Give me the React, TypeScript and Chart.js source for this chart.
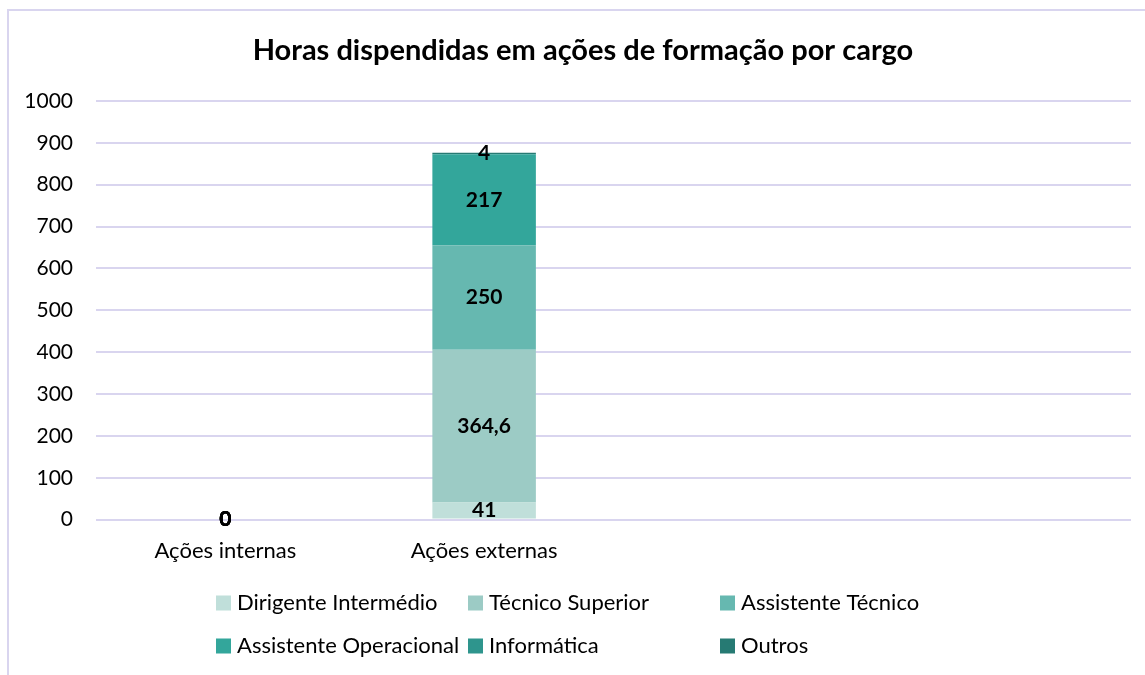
import React, { useEffect, useRef } from "react";
import { Chart, registerables } from "chart.js";

Chart.register(...registerables);

const chartTitle = "Horas dispendidas em ações de formação por cargo";
const categories = ["Ações internas", "Ações externas", "", ""];
const seriesNames = [
  "Dirigente Intermédio",
  "Técnico Superior",
  "Assistente Técnico",
  "Assistente Operacional",
  "Informática",
  "Outros",
];
const dirigenteIntermedio = [0, 41, null, null];
const tecnicoSuperior = [0, 364.6, null, null];
const assistenteTecnico = [0, 250, null, null];
const assistenteOperacional = [0, 217, null, null];
const informatica = [0, null, null, null];
const outros = [0, 4, null, null];
const seriesColors = ["#c0dfda", "#9ccbc5", "#66b8b0", "#33a69b", "#2e958d", "#267a73"];
const yTicks = { min: 0, max: 1000, step: 100 };

const FONT = "Lato, 'Noto Sans', sans-serif";

const labelPlugin = {
  id: "segLabels",
  afterDatasetsDraw(chart: any) {
    const ctx = chart.ctx;
    ctx.save();
    ctx.font = `bold 21px ${FONT}`;
    ctx.fillStyle = "#000";
    ctx.textAlign = "center";
    ctx.textBaseline = "middle";
    chart.data.datasets.forEach((ds: any, di: number) => {
      const meta = chart.getDatasetMeta(di);
      meta.data.forEach((el: any, i: number) => {
        const v = ds.data[i];
        if (v === null || v === undefined) return;
        const y = (el.y + el.base) / 2;
        ctx.fillText(String(v).replace(".", ","), el.x, y);
      });
    });
    ctx.restore();
  },
};

const legendPlugin = {
  id: "gridLegend",
  afterDraw(chart: any) {
    const ctx = chart.ctx;
    const cols = [216, 468, 720];
    const rows = [603, 646];
    ctx.save();
    ctx.font = `22px ${FONT}`;
    ctx.textBaseline = "middle";
    ctx.textAlign = "left";
    chart.data.datasets.forEach((ds: any, i: number) => {
      const x = cols[i % 3];
      const y = rows[Math.floor(i / 3)];
      ctx.fillStyle = ds.backgroundColor;
      ctx.fillRect(x, y - 7.5, 15, 15);
      ctx.fillStyle = "#000";
      ctx.fillText(ds.label, x + 21, y);
    });
    ctx.restore();
  },
};

const titlePlugin = {
  id: "fixedTitle",
  afterDraw(chart: any) {
    const ctx = chart.ctx;
    ctx.save();
    ctx.font = `bold 29px ${FONT}`;
    ctx.fillStyle = "#000";
    ctx.textAlign = "center";
    ctx.textBaseline = "middle";
    ctx.fillText(chartTitle, 583, 51);
    ctx.restore();
  },
};

export default function App() {
  const ref = useRef<HTMLCanvasElement | null>(null);
  useEffect(() => {
    if (!ref.current) return;
    const values = [
      dirigenteIntermedio,
      tecnicoSuperior,
      assistenteTecnico,
      assistenteOperacional,
      informatica,
      outros,
    ];
    const chart = new Chart(ref.current, {
      type: "bar",
      data: {
        labels: categories,
        datasets: values.map((d, i) => ({
          label: seriesNames[i],
          data: d,
          backgroundColor: seriesColors[i],
          borderWidth: 0,
          barPercentage: 0.4,
          categoryPercentage: 1,
        })),
      },
      options: {
        responsive: false,
        animation: false,
        layout: { padding: { top: 101, right: 14, bottom: 93, left: 0 } },
        plugins: {
          legend: { display: false },
          title: { display: false },
          tooltip: { enabled: false },
        },
        scales: {
          x: {
            stacked: true,
            grid: { display: false, drawTicks: false },
            border: { display: false },
            ticks: { color: "#000", font: { family: FONT, size: 22 }, padding: 18, maxRotation: 0 },
          },
          y: {
            stacked: true,
            min: yTicks.min,
            max: yTicks.max,
            border: { display: false },
            grid: { color: "#d9d5ef", lineWidth: 2, drawTicks: false },
            ticks: {
              stepSize: yTicks.step,
              color: "#000",
              font: { family: FONT, size: 21 },
              padding: 23,
              callback: (v: any) => String(v),
            },
            afterFit(scale: any) {
              scale.width = 96;
            },
          },
        },
      },
      plugins: [labelPlugin, legendPlugin, titlePlugin],
    });
    return () => chart.destroy();
  }, []);
  return (
    <div style={{ position: "fixed", left: 0, top: 0, width: 1145, height: 675, overflow: "hidden", background: "#fff" }}>
      <div
        style={{
          position: "absolute",
          left: 7,
          top: 9,
          width: 2000,
          height: 2000,
          borderTop: "2px solid #d9d5ef",
          borderLeft: "2px solid #d9d5ef",
        }}
      />
      <canvas ref={ref} width={1145} height={675} style={{ position: "absolute", left: 0, top: 0, display: "block" }} />
    </div>
  );
}
